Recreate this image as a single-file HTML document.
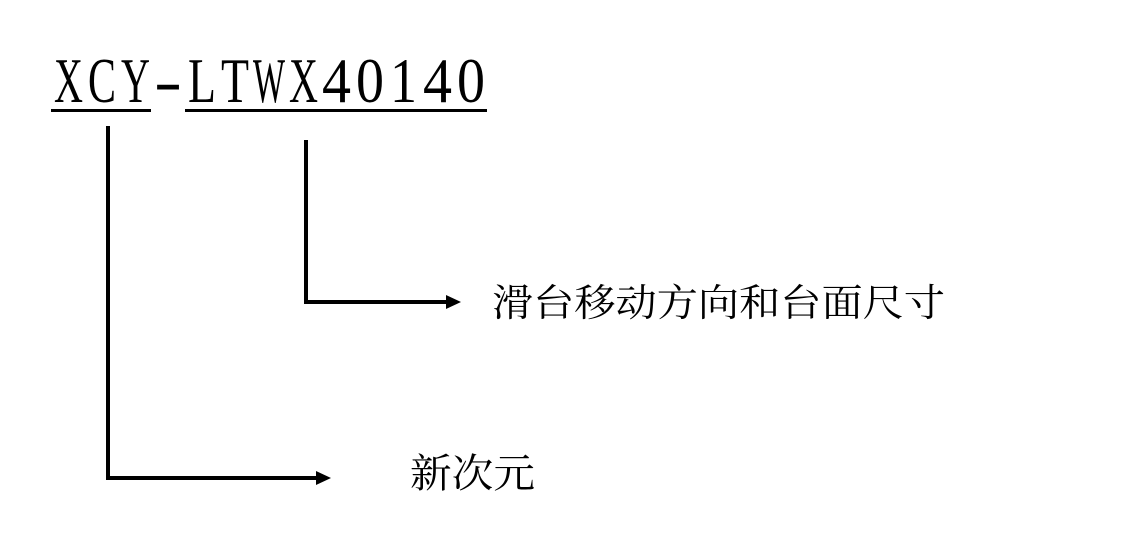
<!DOCTYPE html>
<html><head><meta charset="utf-8"><style>
body{margin:0;background:#fff;width:1122px;height:542px;overflow:hidden}
</style></head><body>
<svg width="1122" height="542" xmlns="http://www.w3.org/2000/svg">
<g font-family="Liberation Serif, serif" font-size="63" fill="#000">
<text x="54" y="102" textLength="29" lengthAdjust="spacingAndGlyphs">X</text>
<text x="88" y="102" textLength="28" lengthAdjust="spacingAndGlyphs">C</text>
<text x="121" y="102" textLength="29" lengthAdjust="spacingAndGlyphs">Y</text>
<text x="154" y="102" textLength="28" lengthAdjust="spacingAndGlyphs">-</text>
<text x="188" y="102" textLength="28" lengthAdjust="spacingAndGlyphs">L</text>
<text x="221" y="102" textLength="28" lengthAdjust="spacingAndGlyphs">T</text>
<text x="253" y="102" textLength="32" lengthAdjust="spacingAndGlyphs">W</text>
<text x="289" y="102" textLength="29" lengthAdjust="spacingAndGlyphs">X</text>
<text x="322" y="102" textLength="29" lengthAdjust="spacingAndGlyphs">4</text>
<text x="356" y="102" textLength="28" lengthAdjust="spacingAndGlyphs">0</text>
<text x="390" y="102" textLength="27" lengthAdjust="spacingAndGlyphs">1</text>
<text x="423" y="102" textLength="29" lengthAdjust="spacingAndGlyphs">4</text>
<text x="457" y="102" textLength="28" lengthAdjust="spacingAndGlyphs">0</text>
</g>
<rect x="51" y="109" width="100" height="3" fill="#000"/>
<rect x="185" y="109" width="302" height="3" fill="#000"/>
<g stroke="#000" stroke-width="4" fill="none">
<polyline points="108,126 108,478 318,478"/>
<polyline points="306,140 306,302 448,302"/>
</g>
<polygon points="316,471 331,478 316,485" fill="#000"/>
<polygon points="446,295 461,302 446,309" fill="#000"/>
<text x="492" y="316" font-family="Liberation Serif, Noto Serif CJK SC, serif" font-size="38" textLength="453" lengthAdjust="spacingAndGlyphs" fill="#000">滑台移动方向和台面尺寸</text>
<text x="410" y="487" font-family="Liberation Serif, Noto Serif CJK SC, serif" font-size="40" textLength="125" lengthAdjust="spacingAndGlyphs" fill="#000">新次元</text>
</svg>
</body></html>
